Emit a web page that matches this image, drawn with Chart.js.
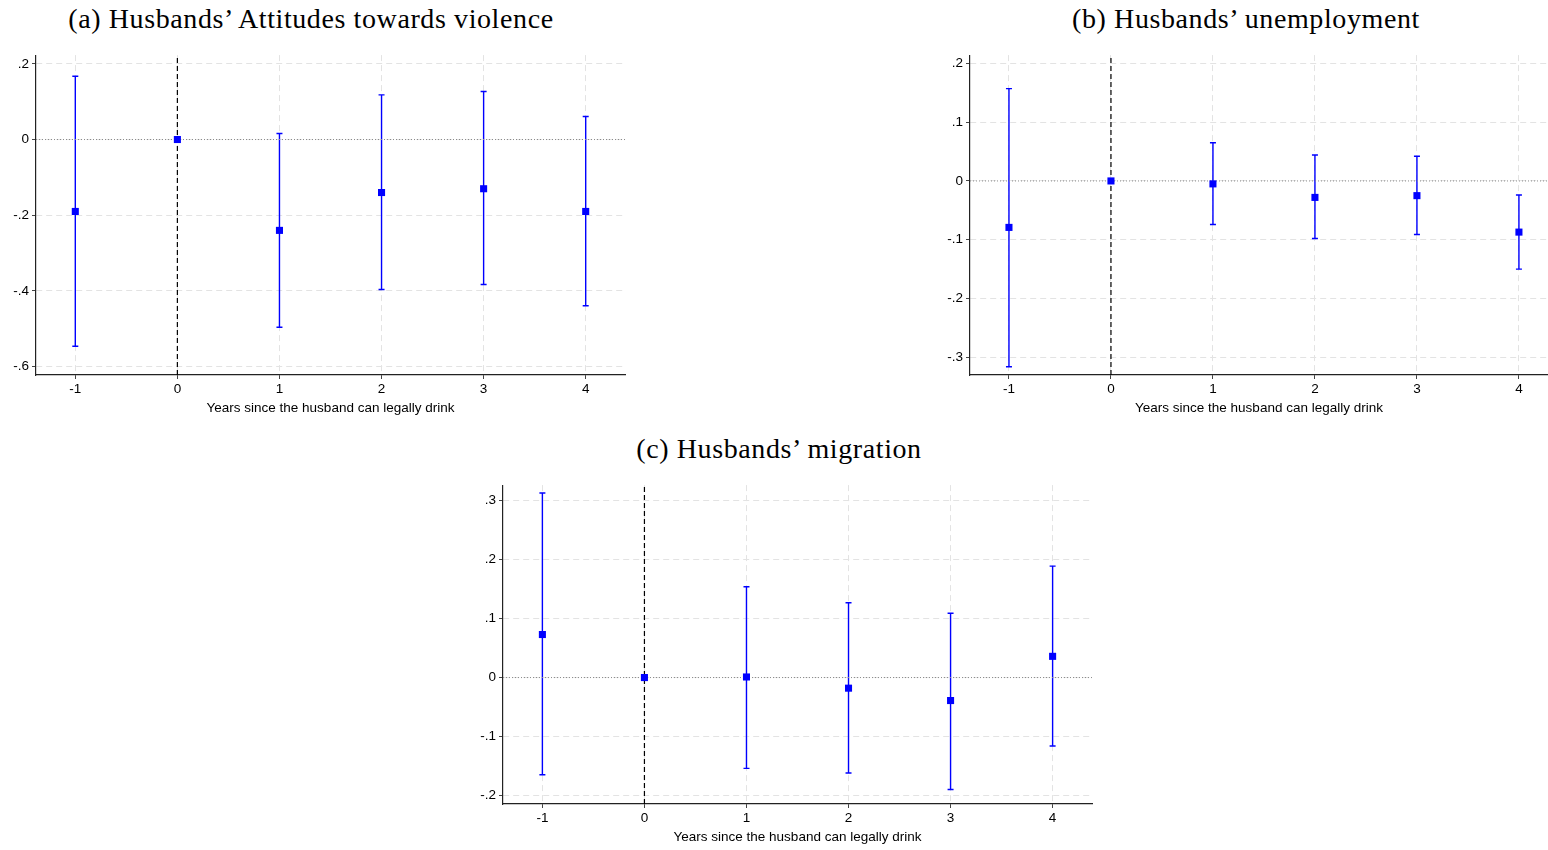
<!DOCTYPE html>
<html>
<head>
<meta charset="utf-8">
<script src="https://cdn.jsdelivr.net/npm/chart.js@4.4.1/dist/chart.umd.min.js"></script>
<style>
  html, body { margin: 0; padding: 0; background: #fff; overflow: hidden; }
  body { width: 1548px; height: 850px; position: relative; }
  canvas { position: absolute; }
  .title {
    position: absolute; width: 700px; text-align: center;
    font-family: 'Liberation Serif', serif; font-size: 28px; letter-spacing: 0.6px;
    line-height: 30px; color: #000; white-space: nowrap;
  }
</style>
</head>
<body>
<div class="title" id="titleA" style="left:-39px; top:4px;">(a) Husbands’ Attitudes towards violence</div>
<div class="title" id="titleB" style="left:896px; top:4px;">(b) Husbands’ unemployment</div>
<div class="title" id="titleC" style="left:429px; top:434px;">(c) Husbands’ migration</div>
<canvas id="chartA"></canvas>
<canvas id="chartB"></canvas>
<canvas id="chartC"></canvas>
<script>
'use strict';

// Event time (years since the husband can legally drink)
const years = [-1, 0, 1, 2, 3, 4];
const xTickValues = [-1, 0, 1, 2, 3, 4];
const xTickLabels = ['-1', '0', '1', '2', '3', '4'];
const xAxisTitle = 'Years since the husband can legally drink';

// (a) Husbands' attitudes towards violence
const coefA = [-0.190, 0, -0.240, -0.140, -0.130, -0.190];
const lowerA = [-0.546, null, -0.496, -0.396, -0.383, -0.439];
const upperA = [0.167, null, 0.016, 0.118, 0.127, 0.061];
const yTickValuesA = [0.2, 0, -0.2, -0.4, -0.6];
const yTickLabelsA = ['.2', '0', '-.2', '-.4', '-.6'];

// (b) Husbands' unemployment
const coefB = [-0.079, 0, -0.005, -0.028, -0.025, -0.087];
const lowerB = [-0.316, null, -0.074, -0.098, -0.091, -0.150];
const upperB = [0.157, null, 0.065, 0.044, 0.042, -0.024];
const yTickValuesB = [0.2, 0.1, 0, -0.1, -0.2, -0.3];
const yTickLabelsB = ['.2', '.1', '0', '-.1', '-.2', '-.3'];

// (c) Husbands' migration
const coefC = [0.073, 0, 0.001, -0.018, -0.039, 0.036];
const lowerC = [-0.165, null, -0.154, -0.162, -0.190, -0.116];
const upperC = [0.313, null, 0.154, 0.127, 0.109, 0.189];
const yTickValuesC = [0.3, 0.2, 0.1, 0, -0.1, -0.2];
const yTickLabelsC = ['.3', '.2', '.1', '0', '-.1', '-.2'];

const BLUE = '#0000ff';
const AXIS_W = 40;   // width reserved for the y axis
const AXIS_H = 41;   // height reserved for the x axis
const PAD_R = 15;

// Draws the confidence intervals with small caps
const errorBars = {
    id: 'errorBars',
    beforeDatasetsDraw(chart, args, opts) {
        const ctx = chart.ctx;
        const xs = chart.scales.x;
        const ys = chart.scales.y;
        ctx.save();
        ctx.strokeStyle = BLUE;
        ctx.lineWidth = 1.4;
        opts.x.forEach((xv, i) => {
            if (opts.lower[i] === null) return;
            const px = xs.getPixelForValue(xv);
            const lo = ys.getPixelForValue(opts.lower[i]);
            const hi = ys.getPixelForValue(opts.upper[i]);
            ctx.beginPath();
            ctx.moveTo(px, lo);
            ctx.lineTo(px, hi);
            ctx.moveTo(px - 3, lo);
            ctx.lineTo(px + 3, lo);
            ctx.moveTo(px - 3, hi);
            ctx.lineTo(px + 3, hi);
            ctx.stroke();
        });
        ctx.restore();
    }
};

function makePanel(id, area, xRange, yRange, coef, lower, upper, yTickValues, yTickLabels) {
    const canvas = document.getElementById(id);
    canvas.width = area.right - area.left + AXIS_W + PAD_R;
    canvas.height = area.bottom - area.top + 10 + AXIS_H + 9;
    canvas.style.left = (area.left - AXIS_W) + 'px';
    canvas.style.top = (area.top - 10) + 'px';

    const tickFont = { family: "'Liberation Sans', Arial, sans-serif", size: 13.5 };
    const gridOpts = { color: '#e3e3e3', lineWidth: 1, tickLength: 4, tickColor: '#444', tickBorderDash: [] };
    const borderOpts = { color: '#222', width: 1.2, dash: [6, 4] };

    new Chart(canvas.getContext('2d'), {
        type: 'scatter',
        data: {
            datasets: [
                {
                    data: years.map((x, i) => ({ x: x, y: coef[i] })),
                    pointStyle: 'rect',
                    pointRadius: 5,
                    backgroundColor: BLUE,
                    borderWidth: 0
                },
                {
                    type: 'line',
                    data: [{ x: 0, y: yRange[0] }, { x: 0, y: yRange[1] }],
                    borderColor: '#000',
                    borderWidth: 1.2,
                    borderDash: [5, 3],
                    pointRadius: 0
                },
                {
                    type: 'line',
                    data: [{ x: xRange[0], y: 0 }, { x: xRange[1], y: 0 }],
                    borderColor: '#8a8a8a',
                    borderWidth: 1,
                    borderDash: [1, 2],
                    pointRadius: 0
                }
            ]
        },
        options: {
            responsive: false,
            animation: false,
            events: [],
            layout: { padding: { left: 0, top: 10, right: PAD_R, bottom: 9 } },
            plugins: {
                legend: { display: false },
                tooltip: { enabled: false },
                errorBars: { x: years, lower: lower, upper: upper }
            },
            scales: {
                x: {
                    type: 'linear',
                    min: xRange[0],
                    max: xRange[1],
                    afterBuildTicks: s => { s.ticks = xTickValues.map(v => ({ value: v })); },
                    afterFit: s => { s.height = AXIS_H; },
                    ticks: {
                        font: tickFont,
                        color: '#000',
                        padding: 2,
                        maxRotation: 0,
                        callback: (v, i) => xTickLabels[i]
                    },
                    grid: gridOpts,
                    border: borderOpts,
                    title: {
                        display: true,
                        text: xAxisTitle,
                        font: tickFont,
                        color: '#000',
                        padding: 0
                    }
                },
                y: {
                    type: 'linear',
                    min: yRange[0],
                    max: yRange[1],
                    afterBuildTicks: s => { s.ticks = yTickValues.map(v => ({ value: v })); },
                    afterFit: s => { s.width = AXIS_W; },
                    ticks: {
                        font: tickFont,
                        color: '#000',
                        padding: 3,
                        callback: (v, i) => yTickLabels[i]
                    },
                    grid: gridOpts,
                    border: borderOpts
                }
            }
        },
        plugins: [errorBars]
    });
}

makePanel('chartA', { left: 36, right: 625, top: 54, bottom: 375 },
    [-1.385, 4.385], [-0.622, 0.223], coefA, lowerA, upperA, yTickValuesA, yTickLabelsA);
makePanel('chartB', { left: 970, right: 1548, top: 54, bottom: 375 },
    [-1.382, 4.285], [-0.330, 0.214], coefB, lowerB, upperB, yTickValuesB, yTickLabelsB);
makePanel('chartC', { left: 503, right: 1092, top: 484, bottom: 804 },
    [-1.386, 4.386], [-0.2145, 0.3265], coefC, lowerC, upperC, yTickValuesC, yTickLabelsC);
</script>
</body>
</html>
